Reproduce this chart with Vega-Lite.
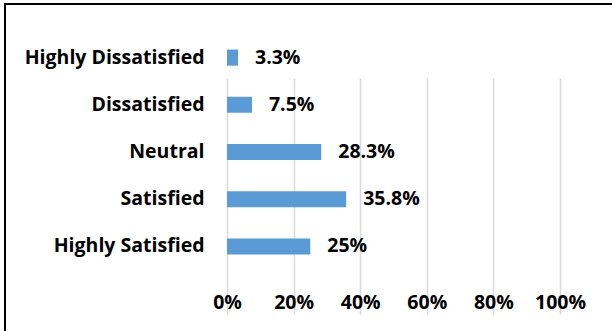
{
  "$schema": "https://vega.github.io/schema/vega-lite/v6.json",
  "width": 620,
  "height": 340,
  "autosize": "none",
  "padding": {"left": 5, "top": 4, "right": 0, "bottom": 0},
  "background": "white",
  "config": {"view": {"stroke": "black", "strokeWidth": 2}, "font": "Open Sans"},
  "data": {"values": [
    {"rating": "Highly Dissatisfied", "share": 0.033},
    {"rating": "Dissatisfied", "share": 0.075},
    {"rating": "Neutral", "share": 0.283},
    {"rating": "Satisfied", "share": 0.358},
    {"rating": "Highly Satisfied", "share": 0.25}
  ]},
  "encoding": {
    "y": {
      "field": "rating", "type": "nominal", "sort": null,
      "scale": {"range": [30, 266], "paddingInner": 0.66, "paddingOuter": 0.33},
      "axis": {"title": null, "orient": "left", "offset": -222, "domain": false, "ticks": false, "labelPadding": 23, "labelFontSize": 19.5, "labelFontWeight": "bold", "labelColor": "black", "grid": false}
    },
    "x": {
      "field": "share", "type": "quantitative",
      "scale": {"domain": [-0.66667, 1.1952], "nice": false, "zero": false},
      "axis": {"title": null, "values": [0, 0.2, 0.4, 0.6, 0.8, 1], "format": ".0%", "offset": -75, "domain": false, "ticks": false, "tickSize": 0, "labelPadding": 24, "labelFontSize": 19.5, "labelFontWeight": "bold", "labelColor": "black", "grid": true, "gridColor": "#d9d9d9", "gridWidth": 1.5}
    }
  },
  "layer": [
    {"mark": {"type": "bar", "color": "#5B9BD5"}},
    {"mark": {"type": "text", "align": "left", "baseline": "middle", "dx": 17, "fontWeight": "bold", "fontSize": 19.5, "color": "black"},
     "encoding": {"text": {"field": "share", "type": "quantitative", "format": ".1~%"}}}
  ]
}
